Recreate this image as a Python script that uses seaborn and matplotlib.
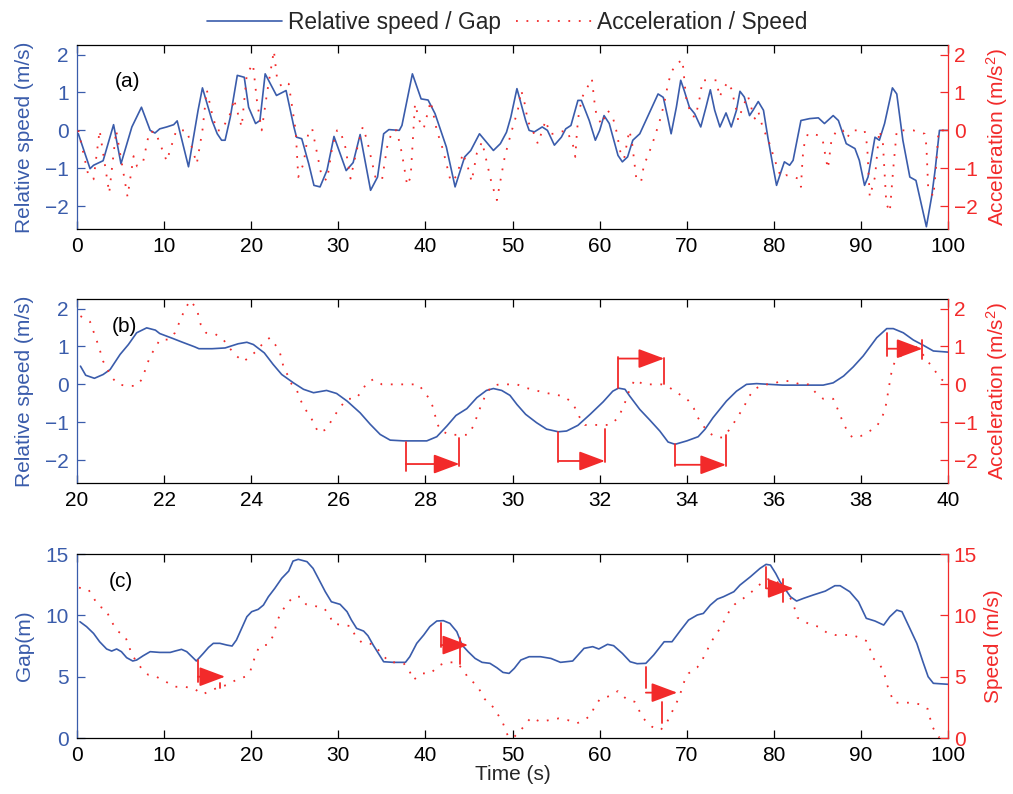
import matplotlib
matplotlib.use("Agg")
import matplotlib.pyplot as plt
import seaborn as sns
from matplotlib.lines import Line2D

# ---------------- panel (a): relative speed (m/s) and acceleration (m/s^2), 0-100 s
a_rel_t = [0.15, 1.5, 1.9, 3.0, 4.2, 5.05, 6.3, 7.4, 8.4, 8.95, 9.5, 10.3, 11.1, 11.5, 12.8,
           13.9, 14.4, 15.5, 16.1, 16.6, 17.0, 17.6, 18.4, 19.2, 19.7, 20.5, 21.0, 21.6, 22.9,
           24.0, 24.9, 25.2, 25.8, 26.6, 27.2, 27.9, 28.7, 29.5, 30.9, 31.7, 32.5, 33.7, 34.5,
           35.2, 35.8, 37.0, 37.3, 38.5, 39.5, 40.3, 41.1, 42.4, 43.4, 44.5, 45.2, 46.2, 47.8,
           48.6, 49.3, 49.8, 50.5, 51.5, 51.9, 52.5, 53.4, 54.0, 54.8, 55.6, 56.1, 56.7, 57.5,
           57.9, 58.8, 59.5, 60.0, 60.5, 61.1, 62.1, 62.6, 63.2, 63.8, 64.6, 65.3, 66.7, 67.3,
           67.8, 68.2, 68.8, 69.3, 69.7, 70.3, 70.9, 71.6, 72.2, 72.7, 73.2, 73.8, 74.5, 75.1,
           75.7, 76.1, 76.6, 77.2, 77.6, 78.2, 78.8, 79.3, 79.9, 80.3, 80.8, 81.2, 81.8, 82.2,
           83.1, 84.1, 85.1, 85.8, 86.8, 87.4, 88.3, 89.3, 89.8, 90.4, 90.8, 91.6, 92.1, 92.7,
           93.6, 94.1, 94.8, 95.6, 96.3, 96.9, 97.5, 98.1, 98.5, 99.0, 100.0]
a_rel_v = [-0.09, -1.01, -0.92, -0.8, 0.15, -0.88, 0.09, 0.61, 0.0, -0.07, 0.04, 0.09, 0.15, 0.25, -0.96,
           0.53, 1.12, 0.26, -0.09, -0.26, -0.26, 0.35, 1.45, 1.4, 0.61, 0.18, 0.26, 1.49, 0.92,
           1.05, 0.09, -0.18, -0.22, -0.88, -1.45, -1.49, -1.05, -0.16, -1.06, -0.85, -0.11, -1.58, -1.23,
           -0.09, 0.02, 0.0, 0.13, 1.49, 0.83, 0.8, 0.44, -0.44, -1.49, -0.7, -0.53, -0.09, -0.53,
           -0.35, -0.05, 0.35, 1.1, 0.26, 0.0, -0.04, 0.09, 0.0, -0.39, -0.18, 0.04, 0.13, 0.79,
           0.79, 0.26, -0.26, 0.0, 0.39, 0.18, -0.66, -0.83, -0.7, -0.26, -0.09, 0.26, 0.96, 0.87,
           0.35, -0.09, 0.61, 1.32, 1.05, 0.61, 0.44, 0.09, 0.61, 1.07, 0.53, 0.09, 0.46, 0.09,
           0.53, 1.03, 0.88, 0.39, 0.53, 0.76, 0.53, -0.18, -0.96, -1.45, -1.1, -0.83, -0.92, -0.79,
           0.26, 0.31, 0.33, 0.18, 0.39, 0.26, -0.35, -0.48, -0.79, -1.45, -1.23, -0.18, -0.26, 0.18,
           1.12, 0.96, -0.26, -1.23, -1.32, -1.93, -2.54, -1.75, -1.05, 0.0, 0.0]

a_acc_t = [0.15, 1.3, 1.9, 2.6, 3.7, 4.5, 5.8, 6.5, 6.9, 7.6, 8.3, 9.0, 10.3, 11.4, 12.6, 13.75,
           14.4, 14.9, 15.5, 16.05, 16.6, 17.8, 18.0, 18.9, 19.5, 20.2, 20.65, 21.2, 21.8, 22.6,
           22.95, 23.5, 24.3, 24.7, 25.1, 25.4, 26.0, 26.6, 27.0, 28.1, 28.7, 29.3, 29.85, 30.2,
           30.8, 31.4, 32.1, 32.8, 33.3, 34.25, 35.0, 35.6, 36.2, 36.7, 37.3, 37.9, 38.3, 38.8,
           39.3, 39.8, 40.6, 41.3, 42.0, 42.9, 43.6, 44.3, 44.9, 45.3, 45.9, 46.5, 47.0, 47.6,
           48.2, 48.7, 49.1, 49.8, 50.6, 51.0, 51.5, 51.7, 52.3, 52.9, 53.8, 54.3, 54.8, 55.5,
           56.2, 56.9, 57.2, 57.4, 57.6, 58.0, 58.6, 59.1, 59.4, 59.6, 60.2, 60.9, 61.5, 61.9,
           62.4, 62.8, 63.4, 63.7, 64.2, 64.75, 65.1, 65.5, 65.9, 66.3, 66.9, 67.4, 67.8, 68.2,
           68.8, 69.5, 69.9, 70.5, 71.0, 71.5, 71.8, 72.6, 73.4, 73.75, 74.2, 74.7, 75.1, 75.7,
           75.9, 76.4, 77.0, 77.4, 77.8, 78.2, 78.7, 79.5, 80.1, 80.8, 81.4, 82.2, 82.8, 83.1,
           83.3, 83.5, 83.9, 84.5, 85.1, 85.6, 86.0, 86.2, 86.6, 87.2, 87.9, 88.4, 88.9, 89.8,
           90.4, 90.7, 91.0, 91.6, 92.1, 92.5, 92.9, 93.3, 93.7, 94.1, 94.8, 96.0, 97.3, 97.5,
           97.7, 98.3, 98.6, 98.9, 99.8]
a_acc_v = [0.0, -1.18, -1.29, 0.0, -1.65, 0.0, -1.75, -0.68, -0.95, -0.82, -0.04, -0.04, -0.81, 0.0, 0.0, -0.88,
           0.0, 1.07, 0.44, 0.0, 0.0, 0.53, 0.83, 0.09, 1.49, 1.75, 0.79, 0.0, 0.96, 2.1,
           1.4, 1.14, 1.23, 0.61, 0.0, -1.23, -0.88, 0.0, 0.04, -1.23, -1.32, -0.44, 0.0, 0.0,
           -0.44, -1.27, -0.53, 0.09, -0.26, -1.23, -1.32, -0.44, 0.0, 0.0, -0.61, -1.45, -1.23, 0.7,
           0.26, 0.05, 0.77, 0.0, -0.5, -1.35, -1.2, -0.6, -1.0, -1.35, -0.6, -0.3, -0.8, -1.4,
           -1.84, -1.2, -0.7, -0.09, 0.53, 1.05, 0.61, 0.26, 0.0, -0.35, 0.26, -0.09, -0.09, -0.04,
           0.0, -0.35, -0.7, 0.0, 0.44, 0.88, 1.14, 1.36, 0.75, 0.44, 0.15, 0.53, 0.35, 0.0,
           -0.6, -0.75, 0.0, -0.3, -1.27, -1.36, -0.88, -0.7, -0.44, -0.18, 0.26, 0.7, 1.18, 1.53,
           1.75, 1.86, 0.88, 0.39, 0.35, 0.88, 1.32, 1.32, 1.32, 0.88, 1.1, 1.27, 1.1, 0.53,
           0.26, 0.6, 0.92, 0.6, 0.31, 0.5, 0.09, -0.35, -0.79, -1.23, -1.18, -1.23, -1.27, -1.49,
           -0.7, -0.35, -0.09, -0.1, -0.13, -0.26, -0.79, -1.01, -0.26, 0.0, 0.0, -0.2, 0.0, 0.0,
           0.0, -0.4, -1.75, -1.23, 0.0, -0.3, -1.93, -2.15, -1.0, 0.0, 0.0, 0.0, -0.09, -0.4,
           -1.49, -1.75, -1.0, 0.0, 0.0]

# ---------------- panel (b): zoom 20-40 s
b_rel_t = [20.08, 20.2, 20.4, 20.6, 20.76, 20.99, 21.18, 21.37, 21.6, 21.8, 21.9, 22.2, 22.4, 22.7,
           22.8, 23.1, 23.4, 23.7, 23.9, 24.05, 24.3, 24.5, 24.7, 24.97, 25.2, 25.43, 25.73, 25.96,
           26.2, 26.5, 26.73, 26.96, 27.19, 27.5, 28.03, 28.26, 28.49, 28.7, 28.95, 29.18, 29.4,
           29.56, 29.75, 29.94, 30.1, 30.3, 30.55, 30.78, 31.05, 31.24, 31.5, 31.78, 32.08, 32.3,
           32.43, 32.58, 32.69, 32.92, 33.15, 33.38, 33.57, 33.73, 34.0, 34.26, 34.42, 34.6, 34.91,
           35.14, 35.37, 35.6, 36.2, 36.6, 37.13, 37.36, 37.6, 37.82, 38.05, 38.36, 38.59, 38.74,
           38.97, 39.2, 39.43, 39.66, 40.0]
b_rel_v = [0.48, 0.24, 0.16, 0.26, 0.39, 0.79, 1.05, 1.36, 1.49, 1.43, 1.34, 1.21, 1.12, 0.99,
           0.94, 0.94, 0.96, 1.07, 1.11, 1.05, 0.83, 0.53, 0.26, 0.04, -0.13, -0.22, -0.16, -0.24,
           -0.44, -0.75, -1.05, -1.32, -1.47, -1.49, -1.49, -1.38, -1.1, -0.82, -0.64, -0.35, -0.16,
           -0.11, -0.16, -0.29, -0.53, -0.79, -1.01, -1.18, -1.25, -1.23, -1.08, -0.79, -0.46, -0.18,
           -0.1, -0.13, -0.31, -0.66, -0.94, -1.23, -1.52, -1.58, -1.49, -1.38, -1.18, -0.88, -0.44,
           -0.18, 0.0, 0.02, -0.02, -0.02, -0.02, 0.04, 0.22, 0.46, 0.75, 1.23, 1.47, 1.47,
           1.36, 1.17, 1.03, 0.88, 0.85]

b_acc_t = [20.08, 20.3, 20.5, 20.6, 20.8, 20.95, 21.14, 21.36, 21.49, 21.68, 21.8, 21.9, 22.1,
           22.25, 22.48, 22.6, 22.75, 22.84, 22.96, 23.17, 23.36, 23.5, 23.65, 23.82, 23.97, 24.16,
           24.29, 24.43, 24.55, 24.66, 24.75, 24.85, 24.93, 25.04, 25.13, 25.23, 25.36, 25.46,
           25.54, 25.7, 25.83, 25.95, 26.08, 26.2, 26.4, 26.54, 26.65, 26.8, 27.0, 27.4, 27.84,
           28.07, 28.17, 28.22, 28.26, 28.37, 28.56, 28.79, 28.98, 29.1, 29.3, 29.4, 29.52, 29.7,
           30.1, 30.3, 30.74, 31.16, 31.3, 31.43, 31.53, 31.66, 31.85, 32.04, 32.23, 32.43, 32.58,
           32.69, 32.81, 33.0, 33.23, 33.42, 33.61, 33.83, 34.03, 34.16, 34.24, 34.36, 34.5, 34.68,
           34.82, 34.99, 35.1, 35.22, 35.33, 35.41, 35.55, 35.76, 35.95, 36.14, 36.37, 36.6, 36.79,
           36.96, 37.13, 37.36, 37.44, 37.52, 37.6, 37.7, 37.8, 38.0, 38.2, 38.36, 38.47, 38.55,
           38.6, 38.68, 38.71, 38.78, 38.97, 39.2, 39.35, 39.5, 39.7, 39.85, 40.0]
b_acc_v = [1.8, 1.65, 1.0, 0.61, 0.18, 0.0, -0.04, -0.04, 0.13, 0.75, 0.96, 1.18, 1.18,
           1.36, 1.99, 2.21, 1.99, 1.58, 1.36, 1.33, 1.18, 0.96, 0.76, 0.6, 0.73, 0.92,
           1.12, 1.23, 1.05, 0.83, 0.42, 0.22, 0.0, -0.13, -0.41, -0.64, -0.85, -1.08,
           -1.27, -1.2, -0.98, -0.76, -0.55, -0.38, -0.38, -0.18, 0.04, 0.13, 0.0, 0.0, 0.0,
           -0.35, -0.59, -0.81, -1.03, -1.23, -1.33, -1.33, -1.33, -1.1, -0.48, -0.25, -0.04, 0.0,
           0.0, -0.09, -0.22, -0.31, -0.42, -0.61, -0.85, -1.07, -1.07, -1.07, -1.07, -0.88, -0.48,
           -0.13, 0.13, 0.0, 0.0, 0.0, -0.09, -0.26, -0.42, -0.63, -0.85, -1.07, -1.27, -1.4,
           -1.4, -1.18, -0.98, -0.76, -0.55, -0.35, -0.13, 0.0, 0.0, 0.08, 0.09, 0.0, 0.0,
           -0.22, -0.38, -0.38, -0.59, -0.81, -1.05, -1.25, -1.4, -1.36, -1.23, -1.11, -0.89, -0.68,
           -0.35, 0.2, 0.39, 0.61, 0.81, 1.05, 0.9, 0.66, 0.35, 0.13, 0.0]

# reaction-delay brackets in (b)
b_arr_x0 = [27.55, 31.05, 32.43, 33.73, 38.6]
b_arr_x1 = [28.78, 32.12, 33.48, 34.9, 39.41]
b_arr_y = [-2.1, -2.02, 0.68, -2.12, 0.94]
b_arr_l0 = [-1.52, -1.25, -0.1, -1.58, 1.36]
b_arr_l1 = [-2.28, -2.05, 0.72, -2.15, 0.76]
b_arr_r0 = [-1.42, -1.18, 0.02, -1.33, 1.18]
b_arr_r1 = [-2.15, -2.04, 0.7, -2.14, 0.66]

# ---------------- panel (c): gap (m) and speed (m/s)
c_gap_t = [0.34, 1.1, 1.9, 2.6, 3.4, 3.98, 4.55, 5.1, 5.7, 6.4, 6.85, 7.6, 8.4, 9.5, 10.7,
           11.25, 12.0, 12.6, 13.2, 13.7, 14.5, 15.1, 15.65, 16.4, 17.2, 17.8, 18.3, 18.9, 19.5,
           20.05, 20.8, 21.4, 21.97, 22.7, 23.5, 24.3, 24.8, 25.4, 26.4, 27.1, 27.7, 28.5, 29.2,
           30.2, 31.0, 31.5, 32.1, 32.9, 33.4, 34.0, 34.6, 35.2, 36.3, 37.7, 38.2, 39.0, 39.8,
           40.5, 41.3, 42.05, 42.8, 43.6, 44.2, 44.9, 45.7, 46.5, 47.4, 48.2, 48.9, 49.6, 50.2,
           50.95, 51.9, 53.2, 54.4, 55.5, 56.9, 58.2, 59.2, 59.9, 60.9, 61.6, 62.6, 63.5, 64.3,
           65.3, 66.2, 67.4, 68.3, 69.3, 70.2, 71.2, 71.9, 72.7, 73.5, 74.2, 75.4, 76.1, 77.3,
           78.4, 79.1, 79.6, 80.2, 80.7, 81.5, 81.9, 82.6, 83.4, 84.5, 85.9, 87.0, 87.6, 88.7,
           89.7, 90.6, 91.6, 92.6, 93.3, 94.1, 94.7, 95.6, 96.4, 97.1, 97.7, 98.3, 100.0]
c_gap_v = [9.48, 9.08, 8.53, 7.85, 7.26, 7.09, 7.26, 7.04, 6.55, 6.28, 6.36, 6.71, 7.04, 6.98, 6.98,
           7.09, 7.23, 7.04, 6.63, 6.28, 6.9, 7.39, 7.72, 7.72, 7.58, 7.5, 7.99, 8.94, 9.89,
           10.3, 10.49, 10.84, 11.52, 12.2, 13.02, 13.61, 14.43, 14.57, 14.38, 13.83, 13.02, 11.93, 11.11,
           10.9, 10.3, 9.62, 8.94, 8.72, 8.34, 7.58, 6.9, 6.22, 6.17, 6.17, 6.63, 7.72, 8.4,
           9.08, 9.54, 9.57, 9.35, 8.67, 7.58, 7.04, 6.49, 6.17, 6.09, 5.73, 5.35, 5.27, 5.68,
           6.36, 6.63, 6.63, 6.49, 6.17, 6.28, 7.31, 7.45, 7.26, 7.64, 7.53, 6.9, 6.22, 6.06,
           6.09, 6.77, 7.85, 7.85, 8.8, 9.62, 10.03, 10.16, 10.84, 11.33, 11.52, 11.93, 12.47, 13.15,
           13.83, 14.16, 14.1, 13.42, 12.74, 11.93, 11.52, 11.17, 11.39, 11.66, 11.98, 12.42, 12.42, 11.93,
           11.11, 9.76, 9.54, 9.21, 9.89, 10.43, 10.3, 8.94, 7.72, 6.22, 5.0, 4.46, 4.38]

c_spd_t = [0.23, 1.3, 1.9, 2.45, 3.3, 3.7, 4.2, 4.75, 5.5, 5.9, 6.2, 6.7, 7.4, 8.2, 9.1, 10.2,
           11.25, 12.3, 13.4, 14.4, 15.5, 16.4, 17.2, 18.25, 19.3, 19.9, 20.2, 20.55, 20.9, 22.0,
           22.5, 23.0, 23.4, 24.1, 24.8, 25.6, 26.3, 27.3, 28.3, 29.0, 29.35, 30.4, 31.4, 31.9,
           32.7, 33.4, 34.2, 35.0, 35.9, 36.9, 37.5, 38.2, 38.6, 39.6, 40.6, 41.5, 42.4, 43.5,
           44.4, 44.9, 45.9, 46.8, 47.8, 48.4, 48.9, 49.5, 50.1, 50.95, 52.1, 53.2, 54.3, 55.3,
           56.3, 57.4, 58.4, 59.0, 59.35, 60.0, 61.1, 62.1, 63.1, 64.0, 64.5, 65.0, 66.0, 67.0,
           67.75, 68.5, 69.1, 69.7, 70.2, 71.2, 71.8, 72.3, 72.7, 73.3, 73.9, 74.4, 74.9, 75.5,
           76.5, 77.6, 78.4, 79.2, 80.2, 80.9, 81.7, 82.2, 82.7, 84.1, 85.1, 86.2, 87.0, 88.0,
           89.0, 90.0, 90.8, 91.3, 92.0, 92.6, 93.0, 93.4, 93.8, 94.7, 95.8, 96.8, 97.7, 98.1,
           98.6, 99.0]
c_spd_v = [12.26, 12.12, 11.44, 10.76, 10.49, 9.89, 9.21, 8.67, 8.32, 7.66, 6.98, 6.36, 5.68, 5.14, 5.0, 4.59,
           4.18, 4.18, 4.05, 3.56, 3.91, 4.18, 4.32, 4.73, 5.0, 5.46, 6.17, 6.82, 7.45, 7.64,
           8.32, 9.54, 10.24, 10.9, 11.52, 11.52, 10.9, 10.76, 10.62, 10.03, 9.35, 9.21, 9.13, 8.4,
           7.77, 7.77, 7.53, 6.82, 6.17, 6.17, 6.09, 5.41, 4.73, 5.27, 5.27, 5.9, 6.17, 6.17,
           5.54, 4.86, 4.32, 3.18, 2.5, 1.82, 1.2, 0.1, 0.03, 0.65, 1.66, 1.33, 1.47, 1.6,
           1.47, 1.2, 1.55, 1.88, 2.47, 3.15, 3.42, 3.83, 3.15, 2.96, 2.28, 1.6, 0.92, 0.65,
           1.33, 2.42, 3.29, 4.59, 5.27, 5.76, 6.41, 7.09, 7.72, 8.4, 9.02, 9.7, 10.38, 10.9,
           11.39, 12.01, 12.53, 12.96, 12.88, 12.34, 11.66, 10.98, 9.81, 9.27, 9.08, 8.53, 8.4, 8.4,
           8.4, 8.13, 7.85, 6.55, 6.14, 5.46, 4.32, 3.56, 2.88, 2.88, 2.88, 2.74, 2.34, 1.06,
           0.38, 0.03]

# reaction-delay markers in (c)
c_arr_x0 = [13.9, 41.8, 65.3, 79.1]
c_arr_tip = [17.0, 44.9, 68.9, 82.25]
c_arr_y = [5.0, 7.58, 3.7, 12.2]
c_arr_l0 = [6.36, 9.35, 5.8, 13.97]
c_arr_l1 = [4.59, 7.45, 4.05, 12.2]
c_arr_xr = [16.4, 44.0, 67.1, 81.0]
c_arr_r0 = [4.5, 8.13, 2.96, 13.0]
c_arr_r1 = [4.1, 6.0, 1.2, 11.1]

BLUE = "#3a5cab"
RED = "#f22a2a"

sns.set_style("white")
plt.rcParams["font.family"] = ["Liberation Sans", "DejaVu Sans"]
plt.rcParams["mathtext.default"] = "regular"
FS = 15
DOT = (0, (1, 4.8))
HEAD = "-|>,head_length=1.6,head_width=0.6"

fig = plt.figure(figsize=(10.13, 7.94), dpi=100)


def make_panel(rect, xlim, xticks, ylim, yticks, tag, tagpos):
    ax = fig.add_axes(rect)
    ax2 = ax.twinx()
    for a in (ax, ax2):
        a.set_xlim(*xlim)
        a.set_ylim(*ylim)
        a.set_facecolor("none")
    ax.set_xticks(xticks)
    ax.set_yticks(yticks)
    ax2.set_yticks(yticks)
    ax.tick_params(axis="x", direction="in", length=5.8, width=0.9, top=True, bottom=True,
                   labelsize=FS, colors="black", pad=6)
    ax.tick_params(axis="y", direction="in", length=5.8, width=0.9, left=True, right=False,
                   labelsize=FS, colors=BLUE, pad=6)
    ax2.tick_params(axis="y", direction="in", length=5.8, width=0.9, right=True, left=False,
                    labelsize=FS, colors=RED, pad=4)
    for s in ("top", "bottom"):
        ax.spines[s].set_color("black")
        ax.spines[s].set_linewidth(0.9)
        ax2.spines[s].set_visible(False)
    ax.spines["left"].set_color(BLUE)
    ax.spines["left"].set_linewidth(0.9)
    ax.spines["right"].set_visible(False)
    ax2.spines["left"].set_visible(False)
    ax2.spines["right"].set_color(RED)
    ax2.spines["right"].set_linewidth(0.9)
    ax.text(tagpos[0], tagpos[1], tag, transform=ax.transAxes, fontsize=FS, color="black",
            ha="left", va="center")
    return ax, ax2


def series(ax, t, v, color, style, lw):
    sns.lineplot(x=t, y=v, ax=ax, color=color, linestyle=style, linewidth=lw,
                 estimator=None, sort=False, legend=False)
    ax.set_xlabel("")


def labels(ax, ax2, lab_l, lab_r):
    ax.set_ylabel(lab_l, color=BLUE, fontsize=FS, labelpad=8)
    ax2.set_ylabel(lab_r, color=RED, fontsize=FS, labelpad=5)


H = 0.2317
# (a)
ax_a, ax_a2 = make_panel([0.076, 0.7116, 0.860, H], (0, 100), range(0, 101, 10), (-2.6, 2.25),
                         [-2, -1, 0, 1, 2], "(a)", (0.043, 0.80))
series(ax_a, a_rel_t, a_rel_v, BLUE, "-", 1.2)
series(ax_a2, a_acc_t, a_acc_v, RED, DOT, 1.3)
labels(ax_a, ax_a2, "Relative speed (m/s)", "Acceleration (m/s$^2$)")

# (b)
ax_b, ax_b2 = make_panel([0.076, 0.3917, 0.860, H], (20, 40), range(20, 41, 2), (-2.6, 2.25),
                         [-2, -1, 0, 1, 2], "(b)", (0.04, 0.85))
series(ax_b, b_rel_t, b_rel_v, BLUE, "-", 1.2)
series(ax_b2, b_acc_t, b_acc_v, RED, DOT, 1.3)
labels(ax_b, ax_b2, "Relative speed (m/s)", "Acceleration (m/s$^2$)")
for x0, x1, y, l0, l1, r0, r1 in zip(b_arr_x0, b_arr_x1, b_arr_y, b_arr_l0, b_arr_l1, b_arr_r0, b_arr_r1):
    ax_b2.plot([x0, x0], [l0, l1], color=RED, lw=1.3)
    ax_b2.plot([x1, x1], [r0, r1], color=RED, lw=1.3)
    ax_b2.annotate("", xy=(x1, y), xytext=(x0, y),
                   arrowprops=dict(arrowstyle=HEAD, color=RED, lw=1.3, shrinkA=0, shrinkB=0,
                                   mutation_scale=10))

# (c)
ax_c, ax_c2 = make_panel([0.076, 0.0705, 0.860, H], (0, 100), range(0, 101, 10), (0, 15),
                         [0, 5, 10, 15], "(c)", (0.036, 0.85))
series(ax_c, c_gap_t, c_gap_v, BLUE, "-", 1.2)
series(ax_c2, c_spd_t, c_spd_v, RED, DOT, 1.3)
labels(ax_c, ax_c2, "Gap(m)", "Speed (m/s)")
ax_c.set_xlabel("Time (s)", fontsize=FS, labelpad=0)
for x0, xt, y, l0, l1, xr, r0, r1 in zip(c_arr_x0, c_arr_tip, c_arr_y, c_arr_l0, c_arr_l1,
                                         c_arr_xr, c_arr_r0, c_arr_r1):
    ax_c2.plot([x0, x0], [l0, l1], color=RED, lw=1.3)
    ax_c2.plot([xr, xr], [r0, r1], color=RED, lw=1.3)
    ax_c2.annotate("", xy=(xt, y), xytext=(x0, y),
                   arrowprops=dict(arrowstyle=HEAD, color=RED, lw=1.3, shrinkA=0, shrinkB=0,
                                   mutation_scale=10))

handles = [Line2D([], [], color=BLUE, lw=1.2, ls="-"),
           Line2D([], [], color=RED, lw=1.3, ls=DOT)]
fig.legend(handles, ["Relative speed / Gap", "Acceleration / Speed"], loc="upper center",
           bbox_to_anchor=(0.501, 1.012), ncol=2, frameon=False, fontsize=16.4,
           handlelength=3.3, handletextpad=0.26, columnspacing=0.66)

fig.savefig("out.png", dpi=100)
